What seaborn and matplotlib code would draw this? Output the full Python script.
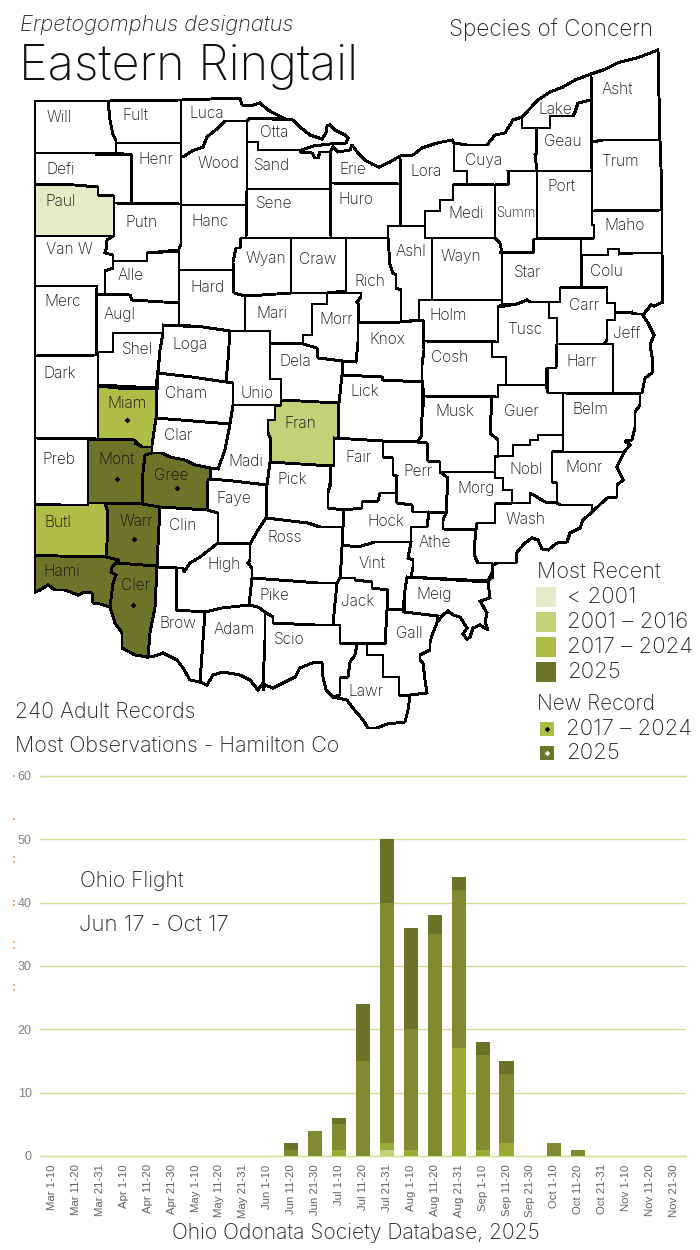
import matplotlib
matplotlib.use("Agg")
import matplotlib.pyplot as plt
import pandas as pd
import seaborn as sns

# flight chart values, ten day periods
periods = ["Mar 1-10", "Mar 11-20", "Mar 21-31", "Apr 1-10", "Apr 11-20", "Apr 21-30",
           "May 1-10", "May 11-20", "May 21-31", "Jun 1-10", "Jun 11-20", "Jun 21-30",
           "Jul 1-10", "Jul 11-20", "Jul 21-31", "Aug 1-10", "Aug 11-20", "Aug 21-31",
           "Sep 1-10", "Sep 11-20", "Sep 21-30", "Oct 1-10", "Oct 11-20", "Oct 21-31",
           "Nov 1-10", "Nov 11-20", "Nov 21-30"]
counts_pre2001 = [0, 0, 0, 0, 0, 0, 0, 0, 0, 0, 0, 0, 0, 0, 1, 0, 0, 0, 0, 0, 0, 0, 0, 0, 0, 0, 0]
counts_2001_2016 = [0, 0, 0, 0, 0, 0, 0, 0, 0, 0, 0, 0, 1, 0, 1, 1, 0, 17, 1, 2, 0, 0, 0, 0, 0, 0, 0]
counts_2017_2024 = [0, 0, 0, 0, 0, 0, 0, 0, 0, 0, 1, 4, 4, 15, 38, 19, 35, 25, 15, 11, 0, 2, 1, 0, 0, 0, 0]
counts_2025 = [0, 0, 0, 0, 0, 0, 0, 0, 0, 0, 1, 0, 1, 9, 10, 16, 3, 2, 2, 2, 0, 0, 0, 0, 0, 0, 0]
y_ticks = [0, 10, 20, 30, 40, 50, 60]

# county outlines, in map units
county_outlines = {
    "Will": [(35,101),(108,101),(110,120),(113,135),(116,140),(116,153),(96,153),(35,153)],
    "Fult": [(108,101),(181,100),(181,143),(116,143),(116,140),(113,135),(110,120)],
    "Luca": [(181,100),(240,98),(242,105),(250,106),(260,103),(268,110),(285,119),(250,118),(247,121),(225,121),(218,128),(207,137),(203,147),(192,151),(183,157),(181,157)],
    "Wood": [(181,157),(183,157),(192,151),(203,147),(207,137),(218,128),(225,121),(247,121),(247,205),(181,205)],
    "Otta": [(247,121),(250,118),(293,120),(300,127),(310,135),(322,139),(326,133),(327,126),(330,125),(335,130),(345,135),(348,138),(346,143),(330,144),(313,146),(302,150),(258,150),(258,142),(247,142)],
    "Sand": [(247,142),(258,142),(258,150),(302,150),(300,152),(312,153),(315,158),(318,158),(320,152),(330,152),(331,189),(247,189)],
    "Erie": [(330,152),(333,147),(338,152),(350,150),(352,145),(358,153),(365,160),(372,164),(379,167),(390,162),(400,156),(400,184),(335,183),(331,183)],
    "Defi": [(35,153),(96,153),(97,155),(132,155),(131,204),(114,203),(114,196),(98,195),(98,187),(75,185),(35,184)],
    "Henr": [(116,143),(181,143),(181,204),(131,204),(132,155),(116,153)],
    "Paul": [(35,184),(75,185),(98,187),(98,195),(114,196),(114,236),(35,236)],
    "Putn": [(114,203),(181,204),(181,245),(179,250),(147,253),(147,261),(113,261),(113,255),(105,253),(107,240),(107,236),(114,236)],
    "Hanc": [(181,205),(246,205),(246,238),(241,238),(240,248),(236,248),(234,258),(233,270),(179,270),(179,248),(181,245)],
    "Sene": [(247,189),(330,189),(331,238),(246,238)],
    "Huro": [(331,183),(400,184),(401,226),(388,226),(388,238),(331,238)],
    "Lora": [(400,156),(413,155),(422,148),(437,143),(452,140),(454,143),(454,171),(467,171),(467,184),(453,185),(453,200),(440,200),(440,211),(425,211),(425,226),(401,226)],
    "Cuya": [(454,143),(467,145),(487,145),(495,135),(505,133),(513,120),(522,117),(522,128),(536,128),(536,155),(538,171),(508,171),(509,184),(495,185),(467,184),(467,171),(454,171)],
    "Lake": [(522,117),(538,100),(550,92),(563,87),(575,80),(591,74),(591,100),(578,103),(575,112),(573,116),(550,116),(550,128),(522,128)],
    "Geau": [(536,128),(550,128),(550,116),(573,116),(575,112),(578,103),(591,100),(592,171),(537,171),(535,155),(537,153)],
    "Asht": [(591,74),(603,70),(620,62),(637,58),(658,50),(659,97),(660,140),(603,140),(592,142)],
    "Trum": [(592,142),(603,140),(660,140),(661,168),(662,210),(592,211)],
    "Port": [(537,171),(592,171),(592,225),(594,225),(594,238),(537,238)],
    "Maho": [(592,211),(662,210),(662,253),(633,253),(619,254),(619,249),(608,249),(608,255),(581,255),(581,239),(594,238),(594,225),(592,225)],
    "Medi": [(453,185),(495,185),(495,238),(425,238),(425,211),(440,211),(440,200),(453,200)],
    "Summ": [(495,185),(509,184),(509,177),(508,171),(537,171),(537,239),(534,239),(533,253),(500,252),(500,243),(495,238)],
    "Van W": [(35,236),(113,236),(107,240),(106,250),(105,253),(113,255),(113,268),(105,271),(105,294),(97,294),(97,286),(35,286)],
    "Alle": [(113,261),(147,261),(147,253),(179,251),(179,303),(132,300),(130,295),(105,294),(105,271),(113,268)],
    "Hard": [(179,270),(233,270),(234,293),(245,295),(245,331),(230,331),(203,327),(179,325)],
    "Wyan": [(241,238),(291,238),(291,293),(262,295),(245,296),(234,293),(233,262),(236,248),(240,248)],
    "Craw": [(291,238),(346,238),(346,291),(327,293),(291,293)],
    "Rich": [(346,238),(388,238),(390,265),(393,273),(396,275),(396,288),(401,290),(401,322),(358,323),(359,305),(357,302),(361,297),(361,293),(327,293),(346,291)],
    "Ashl": [(388,226),(425,226),(425,238),(432,238),(432,300),(419,300),(419,320),(409,321),(401,322),(401,290),(396,288),(396,275),(393,273),(390,265),(388,238)],
    "Wayn": [(432,238),(495,238),(500,243),(502,253),(502,300),(432,300)],
    "Star": [(500,252),(533,253),(534,239),(581,239),(581,255),(582,287),(560,288),(560,302),(530,302),(527,300),(517,304),(502,305),(502,253)],
    "Colu": [(581,255),(608,255),(608,249),(619,249),(619,254),(633,253),(662,253),(663,302),(654,306),(651,305),(643,315),(630,313),(615,313),(615,303),(607,303),(607,287),(582,287)],
    "Merc": [(35,286),(97,286),(96,355),(35,356)],
    "Augl": [(97,294),(130,295),(132,300),(179,303),(179,325),(163,325),(163,333),(113,333),(113,352),(98,352),(96,355)],
    "Mari": [(245,296),(262,295),(291,293),(327,293),(327,304),(312,304),(312,335),(303,335),(303,344),(270,343),(270,331),(245,331)],
    "Morr": [(327,293),(361,293),(361,297),(357,302),(359,305),(358,323),(358,342),(356,362),(343,361),(318,358),(317,348),(303,344),(303,335),(312,335),(312,304),(327,304)],
    "Knox": [(358,323),(401,322),(423,320),(424,350),(423,382),(383,380),(382,377),(342,375),(343,361),(356,362),(358,342)],
    "Holm": [(419,300),(502,300),(502,305),(498,307),(498,342),(424,341),(423,320),(419,320)],
    "Tusc": [(498,307),(517,304),(527,300),(530,302),(549,302),(549,318),(557,318),(557,343),(556,368),(547,368),(546,385),(506,385),(506,357),(492,357),(492,342),(498,342)],
    "Carr": [(560,288),(607,287),(607,303),(615,303),(615,320),(607,320),(607,340),(604,344),(557,344),(557,318),(549,318),(549,302),(560,302)],
    "Jeff": [(615,313),(632,312),(632,314),(642,314),(648,323),(654,335),(650,345),(653,362),(652,373),(645,378),(642,393),(613,393),(613,344),(604,344),(607,340),(607,320),(615,320)],
    "Harr": [(557,344),(613,344),(613,393),(548,393),(547,368),(556,368)],
    "Shel": [(113,333),(163,333),(160,350),(158,370),(156,388),(98,385),(98,352),(113,352)],
    "Loga": [(163,325),(203,327),(230,331),(228,360),(226,382),(192,377),(158,373),(160,350),(163,333)],
    "Unio": [(230,331),(270,331),(270,379),(281,379),(281,405),(233,405),(233,383),(226,382),(228,360)],
    "Dela": [(270,343),(303,344),(317,348),(318,358),(343,361),(342,375),(339,403),(281,400),(281,379),(270,379)],
    "Lick": [(342,375),(382,377),(383,380),(423,382),(422,417),(421,437),(417,442),(383,441),(334,438),(338,438),(339,403)],
    "Cosh": [(424,341),(492,342),(492,357),(506,357),(506,385),(498,385),(498,397),(424,396),(422,380),(422,365),(424,350)],
    "Guer": [(498,385),(546,385),(548,393),(563,393),(563,435),(538,435),(538,440),(530,440),(530,445),(513,445),(513,456),(498,456),(498,440),(490,433),(492,397),(498,397)],
    "Belm": [(563,393),(640,394),(640,405),(635,412),(635,427),(632,440),(625,441),(630,445),(624,452),(552,452),(563,451)],
    "Dark": [(35,356),(96,355),(98,352),(98,439),(35,438)],
    "Miam": [(98,386),(128,389),(157,389),(156,418),(153,445),(152,447),(142,447),(135,441),(135,440),(98,439)],
    "Cham": [(158,373),(192,377),(226,382),(233,383),(233,405),(230,424),(193,421),(156,418),(157,390)],
    "Clar": [(156,418),(193,421),(230,424),(225,450),(218,469),(211,468),(195,465),(185,460),(170,457),(162,453),(152,453),(152,445)],
    "Madi": [(233,405),(281,405),(275,406),(275,420),(268,420),(268,433),(271,440),(270,462),(267,485),(233,481),(210,479),(211,468),(218,469),(225,450),(230,424)],
    "Fran": [(281,400),(339,403),(338,438),(334,439),(334,465),(331,466),(270,462),(271,440),(268,433),(268,420),(275,420),(275,406),(281,405)],
    "Musk": [(424,396),(492,397),(490,433),(498,440),(498,456),(495,457),(495,472),(440,472),(440,462),(428,461),(427,443),(417,442),(421,437),(422,417)],
    "Preb": [(35,438),(98,439),(88,440),(88,503),(88,505),(62,505),(35,504)],
    "Mont": [(88,440),(135,440),(135,443),(142,447),(152,447),(152,453),(145,455),(143,472),(142,504),(105,503),(88,503)],
    "Gree": [(152,453),(162,453),(170,457),(185,460),(195,465),(211,468),(210,479),(208,510),(160,507),(142,504),(143,472),(145,455)],
    "Faye": [(211,479),(233,481),(267,485),(267,518),(258,530),(250,544),(218,543),(218,513),(207,510),(208,480)],
    "Pick": [(270,462),(331,466),(330,483),(328,493),(328,508),(344,510),(343,527),(320,527),(308,523),(266,518),(267,485)],
    "Fair": [(334,438),(383,441),(383,457),(393,458),(393,475),(397,476),(396,493),(380,493),(378,501),(362,502),(362,508),(344,510),(328,508),(328,493),(331,483),(331,466),(334,465)],
    "Perr": [(383,441),(417,442),(427,443),(428,461),(440,462),(440,472),(448,478),(446,512),(429,512),(413,512),(412,505),(397,503),(396,493),(397,476),(393,475),(393,458),(383,457)],
    "Nobl": [(495,457),(498,456),(513,456),(513,445),(530,445),(530,440),(538,440),(538,435),(563,435),(563,451),(552,452),(552,482),(557,483),(557,503),(545,502),(537,497),(530,493),(530,503),(512,503),(512,490),(503,490),(503,478),(495,478),(495,472)],
    "Monr": [(552,452),(624,452),(617,467),(623,480),(617,485),(617,497),(607,498),(592,512),(592,505),(560,505),(557,503),(557,483),(552,482)],
    "Morg": [(440,472),(495,472),(495,478),(503,478),(503,490),(512,490),(512,503),(495,504),(495,523),(477,523),(476,530),(443,529),(443,520),(446,513),(448,478)],
    "Butl": [(35,504),(62,505),(88,505),(88,503),(105,503),(108,513),(107,543),(106,557),(58,556),(35,555)],
    "Warr": [(105,503),(142,504),(160,507),(158,545),(157,566),(116,563),(119,560),(106,557),(107,543),(108,513)],
    "Clin": [(160,507),(207,510),(218,513),(218,543),(200,557),(190,563),(184,572),(183,568),(177,568),(157,567),(158,545)],
    "Wash": [(495,504),(512,503),(530,503),(530,493),(537,497),(545,502),(557,503),(560,505),(592,505),(592,512),(583,520),(580,528),(570,533),(567,542),(557,543),(548,550),(542,549),(538,540),(532,538),(525,543),(517,552),(516,563),(497,563),(493,565),(493,577),(489,580),(492,573),(492,563),(478,563),(475,557),(474,550),(476,530),(477,523),(495,523)],
    "Hock": [(344,510),(362,508),(362,502),(378,501),(380,493),(396,493),(397,503),(412,505),(413,512),(429,512),(427,527),(411,527),(411,542),(375,542),(358,547),(342,545),(343,527)],
    "Ross": [(266,518),(308,523),(320,527),(343,527),(342,547),(340,583),(318,583),(293,581),(252,578),(252,568),(248,563),(250,560),(250,544),(258,530)],
    "Athe": [(429,512),(446,513),(443,520),(443,529),(476,530),(474,550),(475,557),(478,563),(492,563),(492,573),(488,581),(407,577),(411,577),(413,567),(413,560),(408,558),(411,542),(411,527),(427,527)],
    "High": [(218,543),(250,544),(250,560),(248,563),(252,568),(252,578),(249,605),(222,608),(205,612),(176,610),(177,568),(183,568),(184,572),(190,563),(200,557)],
    "Vint": [(342,545),(358,547),(375,542),(411,542),(408,558),(413,560),(413,567),(411,577),(407,577),(405,590),(403,610),(388,609),(388,590),(372,588),(372,582),(355,580),(355,578),(340,578),(340,583),(342,547)],
    "Hami": [(35,555),(58,556),(106,557),(119,560),(112,567),(111,572),(116,575),(113,583),(110,607),(100,604),(93,603),(92,593),(85,592),(78,595),(65,590),(55,590),(48,585),(40,590),(35,592)],
    "Cler": [(116,563),(157,566),(155,607),(150,633),(148,657),(135,655),(122,648),(122,633),(115,623),(110,607),(113,583),(116,575),(111,572),(112,567)],
    "Pike": [(252,578),(293,581),(318,583),(340,583),(337,583),(335,603),(333,625),(315,625),(273,623),(273,617),(265,612),(258,607),(249,605)],
    "Jack": [(340,578),(355,578),(355,580),(372,582),(372,588),(388,590),(387,610),(385,644),(340,643),(340,625),(333,625),(335,603),(337,583)],
    "Meig": [(407,577),(488,582),(490,598),(480,601),(487,613),(485,622),(488,630),(480,625),(473,628),(470,637),(467,639),(463,634),(467,628),(460,617),(453,615),(448,611),(443,615),(438,621),(438,616),(404,612),(405,590)],
    "Brow": [(157,567),(177,568),(176,610),(205,612),(200,682),(190,680),(183,668),(177,660),(163,653),(155,656),(148,657),(150,633),(155,607)],
    "Adam": [(205,612),(222,608),(249,605),(258,607),(265,612),(265,640),(263,683),(258,690),(250,680),(240,675),(223,672),(213,675),(207,685),(200,682)],
    "Scio": [(265,612),(273,617),(273,623),(315,625),(340,625),(340,643),(357,644),(355,655),(350,662),(348,677),(340,678),(340,695),(333,697),(326,690),(323,677),(322,663),(320,662),(312,663),(300,668),(295,677),(283,683),(273,688),(265,685),(263,690),(263,683),(265,640)],
    "Lawr": [(357,644),(367,644),(367,655),(383,655),(383,677),(399,677),(399,695),(410,696),(408,710),(405,722),(387,724),(377,728),(368,728),(363,720),(352,707),(347,700),(333,697),(340,695),(340,678),(348,677),(350,662),(355,655)],
    "Gall": [(388,609),(403,610),(404,612),(438,616),(437,623),(432,635),(430,643),(430,650),(420,655),(420,660),(423,663),(425,680),(427,693),(410,695),(399,695),(399,677),(383,677),(383,655),(367,655),(367,644),(385,644),(387,610)],
}

# label spot for each county
county_labels = {
    "Will": (59,118), "Fult": (135,115), "Luca": (207,113), "Otta": (274,132), "Defi": (61,169),
    "Henr": (156,160), "Wood": (218,163), "Sand": (272,165), "Erie": (353,170), "Lora": (426,172),
    "Cuya": (484,160), "Lake": (555,109), "Geau": (563,142), "Asht": (617,89), "Trum": (620,161),
    "Port": (561,186), "Maho": (625,226), "Paul": (61,202), "Putn": (141,222), "Hanc": (210,222),
    "Sene": (274,204), "Huro": (356,200), "Medi": (466,213), "Summ": (516,213), "Van W": (69,250),
    "Alle": (131,276), "Wyan": (266,259), "Craw": (318,259), "Ashl": (411,252), "Wayn": (461,256),
    "Star": (528,272), "Colu": (606,271), "Merc": (63,302), "Augl": (120,314), "Hard": (207,288),
    "Mari": (272,313), "Rich": (370,281), "Morr": (336,320), "Holm": (448,315), "Carr": (584,305),
    "Tusc": (525,330), "Jeff": (627,333), "Knox": (387,339), "Shel": (137,350), "Loga": (190,344),
    "Dela": (295,362), "Cosh": (450,357), "Harr": (582,361), "Dark": (60,374), "Miam": (127,403),
    "Cham": (186,394), "Unio": (257,393), "Lick": (365,392), "Fran": (300,423), "Musk": (455,412),
    "Guer": (521,411), "Belm": (590,410), "Clar": (178,436), "Preb": (59,459), "Mont": (117,459),
    "Gree": (171,475), "Madi": (246,461), "Fair": (358,457), "Perr": (418,471), "Nobl": (526,470),
    "Monr": (584,468), "Faye": (234,499), "Pick": (292,480), "Morg": (476,488), "Butl": (58,522),
    "Warr": (136,521), "Clin": (183,526), "Wash": (526,519), "Hock": (386,522), "Ross": (285,538),
    "Athe": (435,542), "High": (224,565), "Vint": (372,563), "Hami": (62,571), "Cler": (135,586),
    "Pike": (274,595), "Jack": (358,601), "Meig": (434,595), "Brow": (178,624), "Adam": (234,630),
    "Scio": (289,640), "Gall": (409,634), "Lawr": (366,691),
}

counties_pre2001 = ["Paul"]
counties_2001_2016 = ["Fran"]
counties_2017_2024 = ["Miam", "Butl"]
counties_2025 = ["Mont", "Gree", "Warr", "Hami", "Cler"]
new_record_dots = {"Miam": (127, 420), "Mont": (117, 479), "Gree": (177, 488), "Warr": (134, 539), "Cler": (133, 605)}

recent_labels = ["< 2001", "2001 \u2013 2016", "2017 \u2013 2024", "2025"]
new_labels = ["2017 \u2013 2024", "2025"]
map_colors = ["#e5ebc7", "#c2d178", "#aebd45", "#6b7429"]
bar_colors = ["#c3d07a", "#9aaa33", "#808a30", "#6b7228"]
grid_color = "#d3dc90"
speck_y = [776, 819, 857, 862, 901, 905, 942, 948, 985, 990]

TITLE_FONT = "Inter"

sns.set_theme(style="white")
plt.rcParams["font.family"] = ["Liberation Sans", "DejaVu Sans"]

fig = plt.figure(figsize=(7, 12.5), dpi=100)

# map axes covers the whole figure, units are map units from top left
map_ax = fig.add_axes([0, 0, 1, 1])
map_ax.set_xlim(0, 700)
map_ax.set_ylim(1250, 0)
map_ax.axis("off")

fill_for = {}
for names, color in zip([counties_pre2001, counties_2001_2016, counties_2017_2024, counties_2025], map_colors):
    for name in names:
        fill_for[name] = color

for name, outline in county_outlines.items():
    xs = [p[0] for p in outline]
    ys = [p[1] for p in outline]
    map_ax.fill(xs, ys, facecolor=fill_for.get(name, "white"), edgecolor="black",
                linewidth=1.38, joinstyle="miter", antialiased=False, zorder=2)
for name, (lx, ly) in county_labels.items():
    map_ax.text(lx, ly, name, ha="center", va="center", fontweight="light",
                fontsize=9.6 if name == "Summ" else 11.2,
                family=TITLE_FONT, color="#111111", zorder=3)
for name, (dx, dy) in new_record_dots.items():
    map_ax.scatter(dx, dy, s=9, marker="D", color="black", linewidths=0, zorder=3)


def page_text(x, y, words, size, **kws):
    map_ax.text(x, y, words, fontsize=size, fontweight="light", family=TITLE_FONT,
                color="#222222", va="center", **kws)


page_text(20, 25, "Erpetogomphus designatus", 15.7, style="italic")
map_ax.text(19, 80, "Eastern Ringtail", fontsize=35, fontweight="light", family=TITLE_FONT,
            color="#111111", va="baseline")
page_text(449, 30, "Species of Concern", 16.2)
page_text(15, 712, "240 Adult Records", 15.3)
page_text(15, 746, "Most Observations - Hamilton Co", 15.4)
page_text(80, 881, "Ohio Flight", 15.2)
page_text(79, 925, "Jun 17 - Oct 17", 16)
page_text(172, 1233, "Ohio Odonata Society Database, 2025", 15.2)

# legends are placed by hand like the source layout
page_text(537, 572, "Most Recent", 15.6)
for label, color, ypos in zip(recent_labels, map_colors, [597, 622, 647, 672]):
    map_ax.scatter(546, ypos, s=190, marker="s", color=color, linewidths=0, zorder=3)
    page_text(567, ypos, label, 16)
page_text(537, 704, "New Record", 14.9)
for label, color, dot, ypos in zip(new_labels, map_colors[2:], ["black", "white"], [729, 753]):
    map_ax.scatter(547, ypos, s=105, marker="s", color=color, linewidths=0, zorder=3)
    map_ax.scatter(547, ypos, s=8, marker="D", color=dot, linewidths=0, zorder=4)
    page_text(566, ypos, label, 16)

map_ax.scatter([14] * len(speck_y), speck_y, s=0.8, marker="s", color="#e8b070", linewidths=0)

# flight chart underneath
bar_ax = fig.add_axes([40 / 700, (1250 - 1156) / 1250, 646 / 700, 380 / 1250])
bar_ax.patch.set_alpha(0)

flight = pd.DataFrame({"period": periods, "a": counts_pre2001, "b": counts_2001_2016,
                       "c": counts_2017_2024, "d": counts_2025})
bottom = pd.Series([0] * len(periods))
for column, color in zip(["a", "b", "c", "d"], bar_colors):
    sns.barplot(data=flight, x="period", y=column, color=color, width=0.59, saturation=1,
                bottom=bottom.values, linewidth=0, ax=bar_ax, zorder=3)
    bottom = bottom + flight[column]

bar_ax.set_xlim(-0.5, 26.5)
bar_ax.set_ylim(0, 60)
bar_ax.set_xlabel("")
bar_ax.set_ylabel("")
bar_ax.set_yticks(y_ticks)
bar_ax.yaxis.grid(True, color=grid_color, linewidth=1.0, zorder=0)
bar_ax.xaxis.grid(False)
bar_ax.set_axisbelow(True)
sns.despine(ax=bar_ax, left=True, bottom=True, top=True, right=True)
bar_ax.tick_params(axis="y", length=0, pad=6, labelsize=9, labelcolor="#808080")
bar_ax.tick_params(axis="x", length=0, pad=6, labelsize=8.2, labelcolor="#606060", rotation=90)
for spine_y in [0, 60]:
    bar_ax.axhline(spine_y, color=grid_color, linewidth=1.0, zorder=0, clip_on=False)

fig.savefig("out.png", dpi=100)
